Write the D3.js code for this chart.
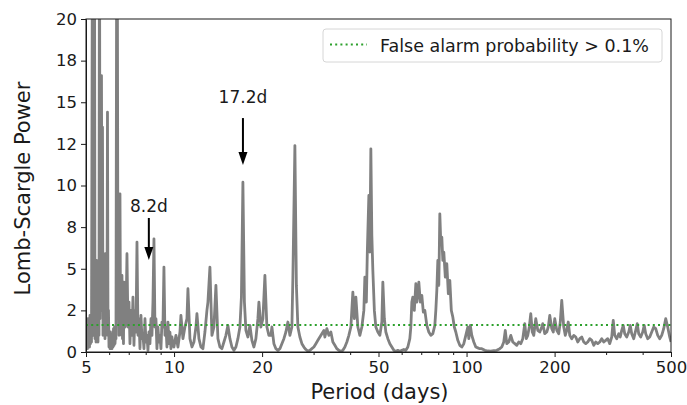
<!DOCTYPE html>
<html><head><meta charset="utf-8">
<script src="https://cdn.jsdelivr.net/npm/d3@7"></script>
<style>body{margin:0;background:#fff}svg{display:block}text{font-family:"DejaVu Sans",sans-serif}</style>
</head><body><svg id="c" width="687" height="405"></svg>
<script>
// ---- data ----
const periods = [5.000,5.020,5.040,5.059,5.079,5.099,5.119,5.140,5.160,5.180,5.201,5.221,5.262,5.283,5.304,5.325,5.346,5.367,5.388,5.409,5.430,5.452,5.473,5.495,5.516,5.538,5.560,5.582,5.604,5.626,5.648,5.670,5.693,5.715,5.737,5.760,5.783,5.806,5.828,5.851,5.875,5.898,5.921,5.945,5.968,5.992,6.015,6.039,6.063,6.087,6.111,6.135,6.159,6.184,6.208,6.233,6.257,6.282,6.306,6.331,6.381,6.432,6.457,6.483,6.508,6.533,6.559,6.585,6.611,6.637,6.663,6.689,6.716,6.742,
6.796,6.849,6.903,6.958,7.013,7.068,7.124,7.180,7.237,7.294,7.352,7.410,7.469,7.528,7.587,7.647,7.707,7.768,7.830,7.891,7.954,8.016,8.079,8.143,8.207,8.272,8.338,8.403,8.470,8.537,8.604,8.672,8.740,8.810,8.879,8.949,9.020,9.091,9.163,9.235,9.308,9.382,9.456,9.530,9.606,9.681,9.758,9.835,9.913,9.991,10.150,10.311,10.475,10.557,10.724,10.894,11.068,11.155,11.332,11.512,11.695,11.880,11.974,12.164,12.357,12.553,12.752,12.954,13.056,13.263,13.474,13.688,13.904,14.125,14.349,14.577,14.808,15.042,15.281,15.523,15.769,16.020,16.274,16.532,16.794,16.994,17.195,17.400,17.606,17.886,18.169,18.458,18.751,19.047,19.350,19.503,19.813,20.127,20.446,20.770,21.099,21.434,21.604,21.946,22.294,22.648,23.007,23.372,23.743,24.119,24.502,24.890,25.285,25.485,25.890,26.196,26.507,26.927,27.354,27.788,28.229,28.677,29.131,29.594,30.063,30.540,31.024,31.516,32.016,32.524,32.781,33.301,33.829,34.366,34.911,35.465,36.027,36.599,37.180,37.770,38.369,38.977,39.595,40.224,40.862,41.346,41.837,42.501,43.175,43.860,44.555,44.907,45.440,45.799,46.343,46.709,47.078,47.450,47.825,48.393,48.967,49.744,50.533,51.335,51.740,52.354,52.975,53.815,54.669,55.536,56.417,57.312,58.221,59.145,60.083,61.036,62.003,62.987,63.986,64.491,65.001,65.514,66.292,67.079,67.609,68.143,68.682,69.497,70.322,71.156,72.002,73.144,74.304,75.483,76.680,77.896,78.511,79.132,79.757,80.387,81.023,81.663,82.308,82.959,83.614,84.604,85.609,86.626,87.654,88.695,89.747,90.813,91.891,93.349,94.830,96.335,97.864,99.413,100.99,101.79,103.00,104.22,105.88,107.55,109.26,110.99,112.75,115.44,118.20,121.02,123.89,126.87,129.88,131.96,134.04,135.65,137.27,139.45,141.66,143.91,146.19,148.50,150.86,153.25,155.68,158.15,160.03,161.93,163.86,165.80,167.78,169.76,172.45,175.19,177.97,180.79,182.22,185.09,188.03,190.27,192.53,195.59,197.90,200.24,203.43,206.66,209.11,211.57,214.92,217.50,220.08,222.69,225.34,228.92,232.54,236.23,239.98,243.79,247.66,251.58,255.57,259.63,263.75,267.93,272.18,276.49,280.88,285.34,289.86,294.46,299.13,303.88,308.70,313.59,317.32,321.07,326.17,331.34,335.28,339.26,343.29,347.35,352.87,358.47,362.73,367.02,372.84,378.76,383.25,387.80,393.95,400.20,404.95,409.77,416.27,422.88,429.59,436.40,443.31,450.35,457.49,464.75,472.12,479.6,487.2,494.9,500];
const powers = [1.4,0.3,1.9,0.2,2.0,0.4,1.7,0.3,2.2,0.5,1.5,0.6,28,1.0,2.5,1.0,26,0.8,4.5,0.6,5.5,0.8,5.3,0.6,5.0,1.0,30,2.0,6.0,2.5,16.6,4.0,13.5,1.0,5.9,1.5,5.5,0.8,5.9,1.0,5.0,2.0,14.4,1.0,2.5,0.3,1.0,0.2,1.2,0.3,0.9,0.2,1.0,0.3,1.4,0.4,1.5,0.5,1.0,0.8,35,2.0,4.0,1.0,5.0,9.5,2.5,4.0,1.0,4.6,0.8,2.5,0.5,4.2,
1.5,2.0,5.9,1.5,3.0,0.5,2.5,1.0,3.3,0.4,2.5,1.2,6.6,1.0,2.0,0.2,2.2,0.8,1.0,0.2,2.0,0.6,1.0,0.1,1.2,0.5,2.0,1.0,3.0,6.8,1.5,2.0,0.2,1.5,0.6,1.0,0.2,1.8,1.5,5.1,1.0,1.5,0.3,1.8,0.5,1.2,0.2,0.9,0.4,0.3,1.0,0.3,1.2,2.2,0.8,1.5,2.0,3.8,0.8,0.3,0.6,1.5,2.3,0.8,0.3,0.2,1.2,2.5,3.0,5.1,1.0,1.5,4.0,0.8,0.3,0.2,0.6,1.0,1.6,0.8,0.3,0.1,0.3,0.8,1.5,3.3,10.2,3.0,1.3,0.9,1.6,0.7,0.3,0.8,2.0,3.0,1.5,2.0,4.6,1.5,1.0,1.0,1.5,0.5,0.2,0.1,0.2,0.5,0.8,1.2,1.8,1.0,1.5,4.5,12.4,4.0,1.5,0.9,0.5,0.3,0.15,0.05,0.1,0.2,0.3,0.5,0.7,0.9,1.1,1.3,0.9,1.4,1.0,1.2,0.6,0.4,0.2,0.1,0.05,0.1,0.3,0.6,1.0,1.5,3.6,2.0,3.3,1.5,1.0,1.5,2.5,4.5,3.0,6.1,9.4,6.0,12.2,7.0,4.9,2.5,1.5,1.2,1.0,1.8,4.2,2.0,1.2,0.8,0.5,0.3,0.1,0.05,0.1,0.05,0.1,0.15,0.1,0.3,0.8,1.5,3.0,3.3,2.5,4.1,3.0,3.5,4.2,3.0,3.4,2.4,2.5,1.6,1.2,1.0,1.1,1.6,2.5,3.7,5.5,4.0,8.3,6.5,6.9,5.5,6.0,4.5,5.3,3.5,4.3,2.5,2.1,1.5,1.2,0.7,0.4,0.3,0.5,1.0,1.5,0.8,1.6,1.0,0.6,0.3,0.25,0.2,0.2,0.1,0.06,0.05,0.08,0.1,0.2,0.3,0.6,1.3,0.5,0.6,1.0,0.6,0.5,0.4,0.6,0.5,0.8,1.7,0.8,1.0,1.5,2.3,1.2,1.0,2.0,1.3,1.2,1.5,1.7,1.1,1.2,1.5,2.2,1.4,1.2,2.0,1.3,1.1,1.8,3.1,1.5,1.0,1.3,1.8,1.0,0.8,1.0,0.9,0.6,0.8,0.9,0.6,0.5,0.6,0.8,0.7,0.4,0.6,0.5,0.6,0.8,0.6,0.7,0.8,0.5,0.9,1.9,1.0,0.8,1.1,0.9,1.3,1.6,1.1,0.9,1.2,1.6,1.1,0.8,1.3,1.7,1.1,0.9,1.2,1.6,1.1,0.8,0.9,1.2,1.5,1.4,1.0,0.8,1.0,1.4,2.0,1.5,0.9,0.6];
const fapLevel = 1.62;
const legendLabel = "False alarm probability > 0.1%";
const xTicks = [5,10,20,50,100,200,500];
const xMinorTicks = [6,7,8,9,30,40,60,70,80,90,300,400];
const yTickValues = [0,2.5,5,7.5,10,12.5,15,17.5,20];
const yTickLabels = ["0","2","5","8","10","12","15","18","20"];
const annotPeriods = [8.2,17.2];
const annotLabels = ["8.2d","17.2d"];
const annotText = [8.41,14.95];
const annotTail = [8.05,14.05];
const annotTip = [5.53,11.23];
const xLabel = "Period (days)";
const yLabel = "Lomb-Scargle Power";

// ---- layout ----
const L=86,R=671,T=19,B=352;
const svg=d3.select("#c");
const x=d3.scaleLog().domain([5,500]).range([L,R]);
const y=d3.scaleLinear().domain([0,20]).range([B,T]);
const ink="#1a1a1a";

svg.append("defs").append("clipPath").attr("id","clip")
  .append("rect").attr("x",L).attr("y",T).attr("width",R-L).attr("height",B-T);

const data=periods.map((p,i)=>[p,powers[i]]);
svg.append("path").datum(data)
  .attr("clip-path","url(#clip)")
  .attr("fill","none").attr("stroke","#808080").attr("stroke-width",2.8)
  .attr("stroke-linejoin","round")
  .attr("d",d3.line().x(d=>x(d[0])).y(d=>y(d[1])));

svg.append("line").attr("x1",L).attr("x2",R).attr("y1",y(fapLevel)).attr("y2",y(fapLevel))
  .attr("stroke","#2ca02c").attr("stroke-width",2).attr("stroke-dasharray","2,3.2");

// axes
svg.append("g").attr("transform",`translate(0,${B})`)
  .call(d3.axisBottom(x).tickValues(xTicks).tickFormat(d3.format("d")).tickSize(5).tickPadding(4));
svg.append("g").attr("transform",`translate(0,${B})`)
  .call(d3.axisBottom(x).tickValues(xMinorTicks).tickFormat("").tickSize(3))
  .call(g=>g.select(".domain").remove());
svg.append("g").attr("transform",`translate(${L},0)`)
  .call(d3.axisLeft(y).tickValues(yTickValues).tickFormat((d,i)=>yTickLabels[i]).tickSize(5).tickPadding(4));
svg.selectAll(".tick text").attr("font-size",16.5).attr("fill",ink).attr("font-family","DejaVu Sans");
svg.selectAll(".tick line").attr("stroke",ink);
svg.selectAll(".domain").attr("stroke",ink);
svg.append("rect").attr("x",L).attr("y",T).attr("width",R-L).attr("height",B-T)
  .attr("fill","none").attr("stroke",ink).attr("stroke-width",1);

// labels
svg.append("text").attr("x",(L+R)/2+1).attr("y",399).attr("text-anchor","middle")
  .attr("font-size",21).attr("fill",ink).text(xLabel);
svg.append("text").attr("transform",`translate(30,${(T+B)/2+3}) rotate(-90)`).attr("text-anchor","middle")
  .attr("font-size",21).attr("fill",ink).text(yLabel);

// annotations
annotPeriods.forEach((p,i)=>{
  const cx=x(p), ty=y(annotTail[i]), hy=y(annotTip[i]);
  svg.append("text").attr("x",cx).attr("y",y(annotText[i])).attr("text-anchor","middle")
    .attr("font-size",17).attr("fill",ink).text(annotLabels[i]);
  svg.append("line").attr("x1",cx).attr("x2",cx).attr("y1",ty).attr("y2",hy-10)
    .attr("stroke","#000").attr("stroke-width",2);
  svg.append("path").attr("d",`M${cx-4.5},${hy-13}L${cx+4.5},${hy-13}L${cx},${hy}Z`).attr("fill","#000");
});

// legend
svg.append("rect").attr("x",323).attr("y",29).attr("width",339).attr("height",33).attr("rx",3)
  .attr("fill","#fff").attr("fill-opacity",0.8).attr("stroke","#d6d6d6");
svg.append("line").attr("x1",330).attr("x2",367).attr("y1",44.5).attr("y2",44.5)
  .attr("stroke","#2ca02c").attr("stroke-width",2).attr("stroke-dasharray","2,3.2");
svg.append("text").attr("x",380).attr("y",51.5).attr("font-size",17.5).attr("fill",ink).text(legendLabel);
</script></body></html>
